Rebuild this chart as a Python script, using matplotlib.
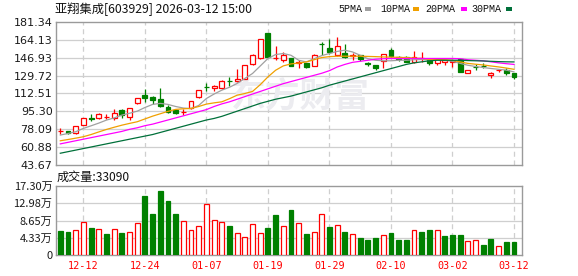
import matplotlib
matplotlib.use("Agg")
import matplotlib.pyplot as plt
import numpy as np

W, H = 578, 276

# ---------------- data ----------------
dates = ["12-09","12-10","12-11","12-12","12-15","12-16","12-17","12-18","12-19","12-22",
         "12-23","12-24","12-25","12-26","12-29","12-30","12-31","01-05","01-06","01-07",
         "01-08","01-09","01-12","01-13","01-14","01-15","01-16","01-19","01-20","01-21",
         "01-22","01-23","01-26","01-27","01-28","01-29","01-30","02-02","02-03","02-04",
         "02-05","02-06","02-09","02-10","02-11","02-12","02-13","02-24","02-25","02-26",
         "02-27","03-02","03-03","03-04","03-05","03-06","03-09","03-10","03-11","03-12"]

opens  = [76.6, 76.3, 74.1, 82.1, 89.1, 88.5, 89.9, 89.1, 96.5, 90.1,
          102.9, 110.9, 109.3, 106.8, 99.7, 96.5, 94.7, 98.7, 109.3, 118.6,
          117.7, 117.6, 125.0, 124.1, 126.5, 141.0, 146.5, 170.8, 146.6, 145.2,
          146.8, 141.8, 141.6, 139.4, 160.6, 156.1, 149.1, 151.3, 148.9, 149.1,
          141.4, 139.7, 143.5, 154.2, 147.7, 147.7, 143.3, 146.4, 145.5, 142.3,
          142.5, 142.8, 145.5, 132.7, 138.3, 139.0, 130.4, 135.4, 134.9, 131.8]
highs  = [79.5, 76.6, 81.0, 88.8, 92.4, 93.3, 92.4, 97.2, 97.2, 98.7,
          108.6, 116.4, 109.8, 117.4, 101.3, 97.5, 97.2, 105.3, 115.9, 122.2,
          120.5, 125.5, 128.2, 136.0, 140.2, 150.3, 165.2, 170.9, 158.0, 152.2,
          147.0, 145.2, 142.0, 150.3, 161.8, 165.0, 166.6, 160.2, 151.6, 150.0,
          143.0, 140.0, 150.5, 156.0, 149.0, 149.0, 153.2, 152.5, 146.0, 146.5,
          144.8, 144.4, 146.0, 135.2, 140.7, 142.0, 132.9, 136.5, 137.1, 132.7]
lows   = [73.4, 73.8, 73.9, 81.8, 86.0, 87.6, 87.6, 87.2, 88.5, 86.9,
          102.5, 104.5, 102.0, 99.7, 93.3, 93.0, 91.7, 97.5, 107.7, 114.8,
          115.0, 117.0, 120.2, 123.8, 126.0, 140.0, 146.0, 147.2, 145.2, 143.3,
          139.0, 136.9, 137.0, 138.5, 149.5, 150.6, 148.5, 147.0, 145.2, 143.5,
          138.5, 135.5, 137.5, 148.0, 143.5, 142.5, 141.5, 142.9, 140.0, 139.5,
          140.0, 138.0, 133.0, 132.5, 134.9, 136.6, 127.9, 133.3, 130.1, 126.9]
closes = [76.8, 74.1, 80.8, 88.5, 87.8, 92.4, 90.1, 93.9, 91.7, 98.1,
          108.3, 107.7, 106.1, 100.3, 94.9, 93.3, 94.9, 105.1, 115.7, 118.3,
          119.6, 125.0, 124.7, 126.0, 140.0, 150.0, 164.8, 147.6, 146.8, 149.1,
          139.4, 142.8, 137.8, 150.0, 160.3, 152.2, 158.7, 147.4, 149.1, 145.8,
          141.1, 136.6, 150.2, 148.5, 145.5, 143.3, 147.7, 146.6, 142.3, 146.2,
          144.3, 144.0, 133.3, 134.9, 138.1, 138.8, 132.7, 135.6, 131.8, 128.5]

ma5  = [72.5, 74.0, 75.7, 78.9, 81.4, 84.0, 86.9, 89.0, 91.7, 93.5,
        95.5, 99.0, 102.0, 103.0, 102.0, 100.0, 98.5, 98.0, 101.0, 107.7,
        112.0, 115.7, 118.5, 122.2, 127.0, 131.8, 139.0, 146.2, 150.0, 151.0,
        149.3, 144.5, 142.9, 146.0, 149.0, 151.0, 153.0, 154.2, 152.5, 149.3,
        146.0, 144.5, 144.0, 144.0, 144.5, 144.5, 145.0, 145.2, 145.0, 145.0,
        144.5, 143.5, 141.5, 139.7, 138.5, 137.5, 136.6, 135.8, 135.0, 133.3]
ma10 = [67.0, 68.2, 69.5, 70.9, 73.0, 75.5, 77.9, 80.0, 82.0, 83.7,
        85.3, 88.0, 90.7, 93.0, 95.3, 97.2, 97.8, 98.1, 100.0, 102.3,
        103.5, 104.5, 107.5, 110.9, 112.5, 114.5, 121.0, 128.5, 134.9, 139.1,
        141.0, 141.8, 142.9, 145.0, 147.1, 148.0, 148.4, 148.4, 148.4, 148.4,
        148.2, 148.0, 147.7, 147.5, 147.3, 147.1, 146.7, 146.2, 145.5, 145.2,
        145.0, 144.5, 142.9, 141.5, 140.7, 140.0, 139.0, 138.1, 137.0, 135.8]
ma20 = [64.0, 65.5, 67.0, 68.5, 70.0, 71.5, 73.0, 74.5, 76.0, 78.0,
        79.5, 81.5, 83.0, 85.0, 87.0, 89.0, 91.0, 93.0, 95.0, 97.0,
        100.0, 102.5, 104.5, 107.0, 109.5, 112.0, 114.5, 117.0, 119.5, 122.0,
        124.0, 126.0, 128.0, 130.0, 132.0, 134.5, 138.0, 140.5, 142.5, 143.5,
        144.5, 145.5, 146.0, 146.2, 146.2, 146.2, 146.2, 146.2, 146.2, 146.2,
        146.2, 146.2, 146.0, 145.0, 144.5, 144.0, 143.0, 142.0, 141.2, 140.5]
ma30 = [55.0, 56.5, 58.0, 59.5, 61.0, 62.5, 64.0, 65.5, 67.0, 68.5,
        70.0, 71.5, 73.0, 75.0, 77.0, 79.0, 81.0, 83.0, 85.0, 87.0,
        88.5, 90.5, 93.0, 95.5, 98.0, 100.5, 103.0, 105.0, 107.0, 108.5,
        110.0, 112.0, 114.0, 116.0, 118.0, 120.5, 122.5, 124.5, 126.5, 128.5,
        130.5, 132.5, 134.5, 136.5, 138.5, 140.5, 142.0, 143.0, 144.0, 144.5,
        144.5, 144.5, 144.5, 144.2, 144.0, 143.8, 143.5, 143.2, 143.0, 142.9]

# volume in 万
volumes = [6.02, 5.77, 6.18, 8.19, 6.77, 6.43, 5.26, 6.43, 5.52, 5.77,
           7.94, 14.79, 10.28, 16.04, 13.54, 10.28, 8.44, 6.18, 7.19, 12.79,
           8.69, 8.19, 7.27, 5.43, 4.43, 7.69, 5.43, 6.77, 10.03, 7.19,
           11.28, 7.94, 5.26, 5.68, 10.19, 7.02, 7.44, 5.77, 5.18, 4.26,
           3.76, 4.26, 4.93, 5.52, 3.76, 3.76, 6.18, 5.77, 6.18, 6.18,
           4.76, 5.01, 5.01, 3.51, 3.68, 2.51, 3.93, 2.17, 3.26, 3.309]
vol_up = "GGRRGRGRGRRGGGGGRRRRRRGRRRRGGRGRGRRGRGRGGGRGGGRGGRGGGRRGGRGG"

price_ticks = [43.67, 60.88, 78.09, 95.30, 112.51, 129.72, 146.93, 164.13, 181.34]
vol_ticks = [0, 4.33, 8.65, 12.98, 17.30]
vol_tick_labels = ["0", "4.33万", "8.65万", "12.98万", "17.30万"]
label_idx = [3, 11, 19, 27, 35, 43, 51, 59]

title = "亚翔集成[603929] 2026-03-12 15:00"
vol_title = "成交量:33090"
legend_names = ["5PMA", "10PMA", "20PMA", "30PMA"]

# ---------------- style ----------------
RED = "#ff0000"
GREEN = "#008000"
MA_COLORS = ["#a0a0a0", "#f0a000", "#ff00ff", "#00703a"]
GRID = "#cfcfcf"
FRAME = "#9a9a9a"
CJK = ["Noto Sans CJK SC", "DejaVu Sans"]

fig = plt.figure(figsize=(W / 100, H / 100), dpi=100)
fig.patch.set_facecolor("white")

def fx(px):
    return px / W

def fy(py):
    return 1 - py / H

L_PX, R_PX = 56, 522
ax = fig.add_axes([fx(L_PX), fy(165), fx(R_PX - L_PX), (165 - 22) / H])
axv = fig.add_axes([fx(L_PX), fy(255), fx(R_PX - L_PX), (255 - 186) / H])

n = len(closes)
x = np.arange(n)
xlim = (-0.56, 60.04)
bw = 0.64

# candles
for i in range(n):
    o, h, l, c = opens[i], highs[i], lows[i], closes[i]
    up = c >= o
    col = RED if up else GREEN
    ax.vlines(i, l, h, color=col, lw=0.9, zorder=3)
    ax.bar(i, max(abs(c - o), 0.15), bottom=min(o, c), width=bw,
           facecolor="white" if up else col, edgecolor=col, linewidth=0.9, zorder=4)

for vals, col in zip([ma5, ma10, ma20, ma30], MA_COLORS):
    ax.plot(x, vals, color=col, lw=0.9, zorder=5)

ax.set_xlim(*xlim)
ax.set_ylim(price_ticks[0], price_ticks[-1])
ax.set_yticks(price_ticks)
ax.set_yticklabels([f"{t:.2f}" for t in price_ticks])
ax.set_xticks([])
for t in price_ticks[1:-1]:
    ax.axhline(t, color=GRID, lw=0.9, zorder=1)
for i in label_idx:
    ax.axvline(i, color=GRID, lw=0.9, ls=(0, (4, 3)), zorder=1)

ax.text(0.524, 0.483, "东方财富", transform=ax.transAxes, ha="center", va="center",
        fontsize=25, fontweight="bold", color="#ececf0", family=CJK, zorder=2)

# volume
for i in range(n):
    up = vol_up[i] == "R"
    col = RED if up else GREEN
    axv.bar(i, volumes[i], width=bw, facecolor="white" if up else col,
            edgecolor=col, linewidth=0.9, zorder=4)
axv.set_xlim(*xlim)
axv.set_ylim(vol_ticks[0], vol_ticks[-1])
axv.set_yticks(vol_ticks)
axv.set_yticklabels(vol_tick_labels, family=CJK)
axv.set_xticks(label_idx)
axv.set_xticklabels([dates[i] for i in label_idx], color=RED, family="DejaVu Sans Mono",
                    fontsize=7.3)
for t in vol_ticks[1:-1]:
    axv.axhline(t, color=GRID, lw=0.9, zorder=1)
for i in label_idx:
    axv.axvline(i, color=GRID, lw=0.9, ls=(0, (4, 3)), zorder=1)

for a in (ax, axv):
    for s in a.spines.values():
        s.set_color(FRAME)
        s.set_linewidth(1.0)
    a.tick_params(axis="both", length=0, pad=2.5)
    a.tick_params(axis="y", labelsize=8, labelcolor="#1a1a1a")
    a.set_facecolor("white")
for lbl in axv.get_yticklabels():
    lbl.set_fontsize(8)
axv.tick_params(axis="x", pad=4)

# texts
fig.text(fx(55), fy(9), title, fontsize=8.8, family=CJK, ha="left", va="center", color="#111")
fig.text(fx(57), fy(177), vol_title, fontsize=8.7, family=CJK, ha="left", va="center", color="#111")

leg_text_x = [338, 380, 425, 471]
leg_mark_x = [365, 413, 461, 506]
for name, tx, mx, col in zip(legend_names, leg_text_x, leg_mark_x, MA_COLORS):
    fig.text(fx(tx), fy(9), name, fontsize=7.2, family="Liberation Mono", ha="left",
             va="center", color="#111")
    fig.patches.append(plt.Rectangle((fx(mx), fy(10.5)), fx(6), 3 / H, transform=fig.transFigure,
                                     facecolor=col, edgecolor="none"))

fig.savefig("out.png", dpi=100, facecolor="white")
